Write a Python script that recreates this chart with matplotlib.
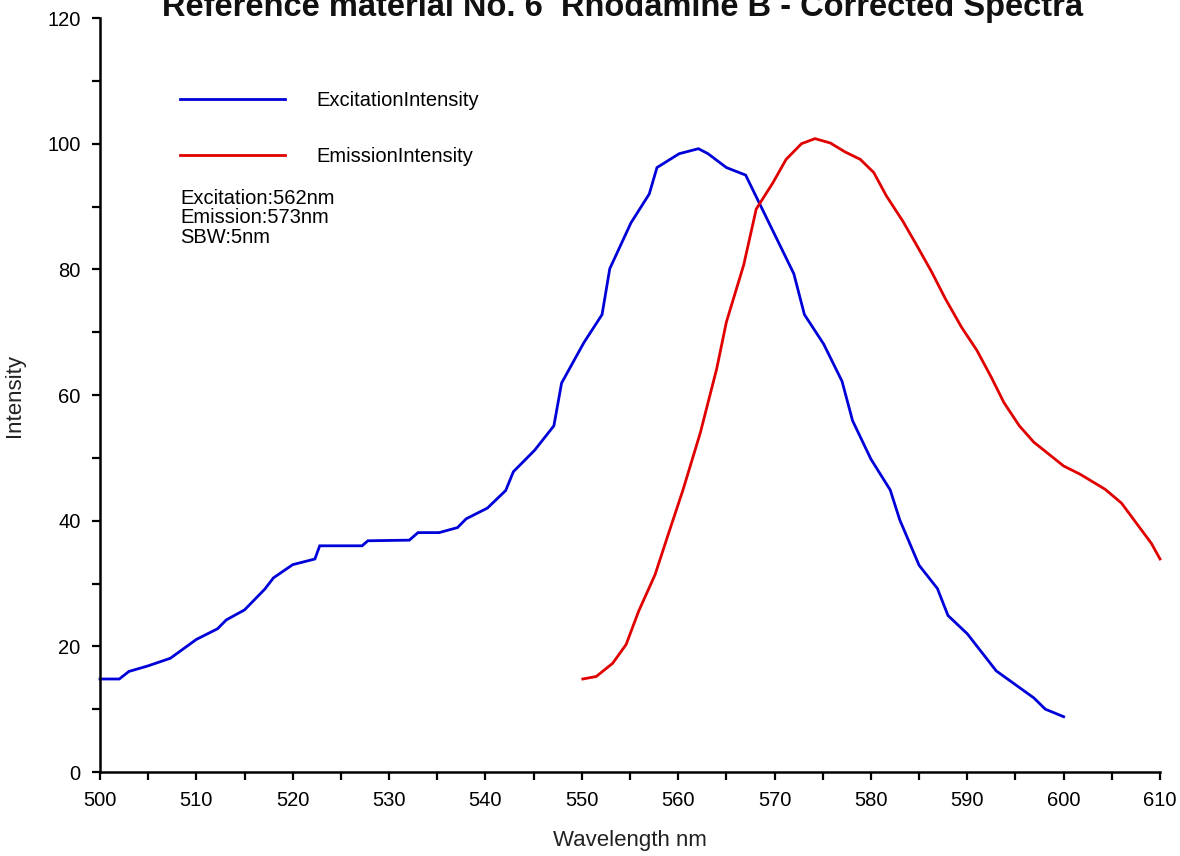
import matplotlib
matplotlib.use("Agg")
import matplotlib.pyplot as plt
from matplotlib.ticker import MultipleLocator

plt.rcParams['font.family'] = ['Liberation Sans', 'DejaVu Sans']

# Excitation spectrum (wavelength nm, intensity)
ex_wl = [500.0, 502.0, 503.0, 505.0, 507.3, 510.0, 512.2, 513.1, 515.0, 517.1,
         518.0, 520.0, 522.3, 522.8, 527.2, 527.8, 532.1, 533.0, 535.2, 537.1,
         538.0, 540.2, 542.1, 542.9, 545.1, 547.1, 547.9, 550.2, 552.1, 552.9,
         555.1, 557.0, 557.8, 560.1, 562.1, 563.1, 565.0, 567.0, 572.0, 573.1,
         575.1, 577.0, 578.1, 580.0, 582.0, 583.0, 585.0, 586.9, 588.0, 590.0,
         593.0, 596.9, 598.1, 600.0]
ex_int = [14.8, 14.8, 16.0, 16.9, 18.1, 21.1, 22.8, 24.2, 25.8, 29.1,
          30.9, 33.0, 33.9, 36.0, 36.0, 36.8, 36.9, 38.1, 38.1, 38.9,
          40.3, 42.0, 44.8, 47.8, 51.2, 55.1, 61.9, 68.3, 72.8, 80.1,
          87.4, 92.0, 96.2, 98.4, 99.2, 98.4, 96.2, 95.0, 79.3, 72.8,
          68.1, 62.2, 55.9, 49.8, 44.9, 40.1, 32.9, 29.2, 24.9, 22.0,
          16.1, 11.8, 10.0, 8.8]

# Emission spectrum (wavelength nm, intensity)
em_wl = [550.1, 551.5, 553.2, 554.6, 555.9, 557.6, 558.9, 560.5, 562.3, 564.0,
         565.0, 566.8, 568.1, 569.8, 571.2, 572.8, 574.2, 575.8, 577.3, 578.9,
         580.3, 581.6, 583.3, 584.8, 586.3, 587.7, 589.4, 591.0, 592.5, 593.8,
         595.4, 596.9, 600.0, 601.7, 604.3, 606.0, 609.1, 610.0]
em_int = [14.8, 15.2, 17.3, 20.3, 25.6, 31.4, 37.5, 44.9, 54.0, 64.2,
          71.6, 80.7, 89.6, 93.7, 97.5, 100.0, 100.8, 100.1, 98.7, 97.5,
          95.4, 91.7, 87.7, 83.7, 79.6, 75.4, 70.8, 67.1, 62.8, 58.8,
          55.1, 52.5, 48.7, 47.4, 45.0, 42.8, 36.4, 33.9]

series_labels = ["ExcitationIntensity", "EmissionIntensity"]
info_lines = ["Excitation:562nm", "Emission:573nm", "SBW:5nm"]

BLUE = "#0000D8"
RED = "#E00000"

fig = plt.figure(figsize=(11.8, 8.56), dpi=100)
ax = fig.add_axes([100 / 1180, 1 - 772 / 856, 1060 / 1180, 754 / 856])

ax.plot(ex_wl, ex_int, color=BLUE, lw=2.0, label=series_labels[0],
        solid_joinstyle='miter', clip_on=False)
ax.plot(em_wl, em_int, color=RED, lw=2.0, label=series_labels[1],
        solid_joinstyle='miter', clip_on=False)

ax.set_xlim(500, 610)
ax.set_ylim(0, 120)
ax.xaxis.set_major_locator(MultipleLocator(10))
ax.xaxis.set_minor_locator(MultipleLocator(5))
ax.yaxis.set_major_locator(MultipleLocator(20))
ax.yaxis.set_minor_locator(MultipleLocator(10))

for side in ("top", "right"):
    ax.spines[side].set_visible(False)
for side in ("left", "bottom"):
    ax.spines[side].set_linewidth(1.8)
    ax.spines[side].set_color("black")

ax.tick_params(which='both', direction='out', length=6, width=1.6,
               colors='black', labelsize=14.5, pad=8)

ax.set_xlabel("Wavelength nm", fontsize=16, color='#222222', labelpad=14)
ax.set_ylabel("Intensity", fontsize=16, color='#222222', labelpad=16)

leg = ax.legend(loc='upper left', bbox_to_anchor=(80 / 1060, 1 - 73 / 754),
                frameon=False, fontsize=14.5, handlelength=5.2,
                handletextpad=1.55, labelspacing=1.85, borderpad=0,
                borderaxespad=0)
for line in leg.get_lines():
    line.set_linewidth(2.0)

ax.text(80 / 1060, (772 - 189) / 754, "\n".join(info_lines),
        transform=ax.transAxes, ha='left', va='top', fontsize=14.5,
        linespacing=1.02, color='black')

fig.text(623 / 1180, 1 - 16 / 856,
         "Reference material No. 6  Rhodamine B - Corrected Spectra",
         ha='center', va='baseline', fontsize=23.5, fontweight='bold',
         color='#111111')

fig.savefig("out.png", dpi=100)
